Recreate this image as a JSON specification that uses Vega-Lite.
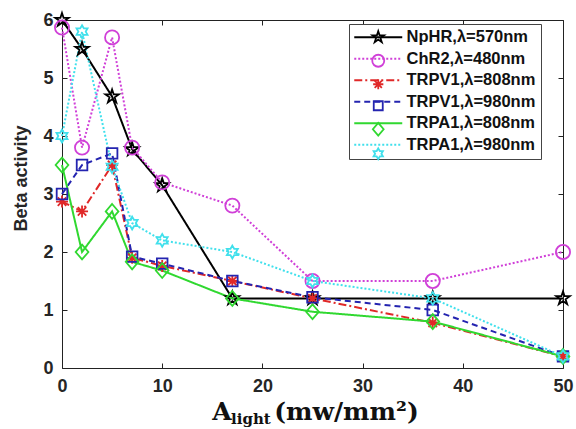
{
  "$schema": "https://vega.github.io/schema/vega-lite/v6.json",
  "width": 501,
  "height": 348,
  "autosize": {"type": "none"},
  "padding": {"left": 62, "top": 20, "right": 13, "bottom": 61},
  "background": "white",
  "title": {
    "text": "light",
    "orient": "bottom",
    "anchor": "start",
    "frame": "group",
    "font": "DejaVu Serif",
    "fontWeight": "bold",
    "fontSize": 15,
    "color": "#111",
    "offset": 0,
    "dx": 169,
    "dy": -12
  },
  "config": {
    "view": {"stroke": null},
    "font": "Liberation Sans"
  },
  "data": {
    "values": [
      {"s": "NpHR,λ=570nm", "o": 1, "x": 0, "y": 6.0},
      {"s": "NpHR,λ=570nm", "o": 1, "x": 2, "y": 5.5},
      {"s": "NpHR,λ=570nm", "o": 1, "x": 5, "y": 4.68},
      {"s": "NpHR,λ=570nm", "o": 1, "x": 7, "y": 3.77},
      {"s": "NpHR,λ=570nm", "o": 1, "x": 10, "y": 3.15},
      {"s": "NpHR,λ=570nm", "o": 1, "x": 17, "y": 1.2},
      {"s": "NpHR,λ=570nm", "o": 1, "x": 25, "y": 1.2},
      {"s": "NpHR,λ=570nm", "o": 1, "x": 37, "y": 1.2},
      {"s": "NpHR,λ=570nm", "o": 1, "x": 50, "y": 1.2},
      {"s": "ChR2,λ=480nm", "o": 2, "x": 0, "y": 5.87},
      {"s": "ChR2,λ=480nm", "o": 2, "x": 2, "y": 3.8},
      {"s": "ChR2,λ=480nm", "o": 2, "x": 5, "y": 5.7},
      {"s": "ChR2,λ=480nm", "o": 2, "x": 7, "y": 3.8},
      {"s": "ChR2,λ=480nm", "o": 2, "x": 10, "y": 3.2},
      {"s": "ChR2,λ=480nm", "o": 2, "x": 17, "y": 2.8},
      {"s": "ChR2,λ=480nm", "o": 2, "x": 25, "y": 1.5},
      {"s": "ChR2,λ=480nm", "o": 2, "x": 37, "y": 1.5},
      {"s": "ChR2,λ=480nm", "o": 2, "x": 50, "y": 2.0},
      {"s": "TRPV1,λ=808nm", "o": 3, "x": 0, "y": 2.87},
      {"s": "TRPV1,λ=808nm", "o": 3, "x": 2, "y": 2.7},
      {"s": "TRPV1,λ=808nm", "o": 3, "x": 5, "y": 3.5},
      {"s": "TRPV1,λ=808nm", "o": 3, "x": 7, "y": 1.9},
      {"s": "TRPV1,λ=808nm", "o": 3, "x": 10, "y": 1.76},
      {"s": "TRPV1,λ=808nm", "o": 3, "x": 17, "y": 1.5},
      {"s": "TRPV1,λ=808nm", "o": 3, "x": 25, "y": 1.2},
      {"s": "TRPV1,λ=808nm", "o": 3, "x": 37, "y": 0.78},
      {"s": "TRPV1,λ=808nm", "o": 3, "x": 50, "y": 0.2},
      {"s": "TRPV1,λ=980nm", "o": 4, "x": 0, "y": 3.0},
      {"s": "TRPV1,λ=980nm", "o": 4, "x": 2, "y": 3.5},
      {"s": "TRPV1,λ=980nm", "o": 4, "x": 5, "y": 3.7},
      {"s": "TRPV1,λ=980nm", "o": 4, "x": 7, "y": 1.92},
      {"s": "TRPV1,λ=980nm", "o": 4, "x": 10, "y": 1.8},
      {"s": "TRPV1,λ=980nm", "o": 4, "x": 17, "y": 1.5},
      {"s": "TRPV1,λ=980nm", "o": 4, "x": 25, "y": 1.22},
      {"s": "TRPV1,λ=980nm", "o": 4, "x": 37, "y": 1.0},
      {"s": "TRPV1,λ=980nm", "o": 4, "x": 50, "y": 0.2},
      {"s": "TRPA1,λ=808nm", "o": 5, "x": 0, "y": 3.5},
      {"s": "TRPA1,λ=808nm", "o": 5, "x": 2, "y": 2.0},
      {"s": "TRPA1,λ=808nm", "o": 5, "x": 5, "y": 2.7},
      {"s": "TRPA1,λ=808nm", "o": 5, "x": 7, "y": 1.83},
      {"s": "TRPA1,λ=808nm", "o": 5, "x": 10, "y": 1.68},
      {"s": "TRPA1,λ=808nm", "o": 5, "x": 17, "y": 1.2},
      {"s": "TRPA1,λ=808nm", "o": 5, "x": 25, "y": 0.97},
      {"s": "TRPA1,λ=808nm", "o": 5, "x": 37, "y": 0.8},
      {"s": "TRPA1,λ=808nm", "o": 5, "x": 50, "y": 0.2},
      {"s": "TRPA1,λ=980nm", "o": 6, "x": 0, "y": 4.0},
      {"s": "TRPA1,λ=980nm", "o": 6, "x": 2, "y": 5.8},
      {"s": "TRPA1,λ=980nm", "o": 6, "x": 5, "y": 3.47},
      {"s": "TRPA1,λ=980nm", "o": 6, "x": 7, "y": 2.5},
      {"s": "TRPA1,λ=980nm", "o": 6, "x": 10, "y": 2.2},
      {"s": "TRPA1,λ=980nm", "o": 6, "x": 17, "y": 2.0},
      {"s": "TRPA1,λ=980nm", "o": 6, "x": 25, "y": 1.5},
      {"s": "TRPA1,λ=980nm", "o": 6, "x": 37, "y": 1.2},
      {"s": "TRPA1,λ=980nm", "o": 6, "x": 50, "y": 0.2}
    ]
  },
  "resolve": {"axis": {"x": "independent", "y": "independent"}},
  "layer": [
    {
      "mark": {"type": "line", "strokeWidth": 2, "strokeCap": "butt"},
      "encoding": {
        "x": {
          "field": "x", "type": "quantitative",
          "scale": {"domain": [0, 50], "nice": false, "zero": false},
          "axis": {
            "orient": "bottom",
            "values": [0, 10, 20, 30, 40, 50],
            "grid": false,
            "domainColor": "#222", "domainWidth": 1,
            "tickColor": "#222", "tickSize": -5, "tickWidth": 1,
            "labelFont": "Liberation Sans", "labelFontWeight": "bold", "labelFontSize": 18,
            "labelColor": "#262626", "labelPadding": 14, "labelFlush": false,
            "title": "A\u2003\u2002\u2009(mw/mm²)",
            "titleFont": "DejaVu Serif", "titleFontWeight": "bold", "titleFontSize": 25,
            "titleColor": "#111", "titlePadding": 4, "titleX": 253
          }
        },
        "y": {
          "field": "y", "type": "quantitative",
          "scale": {"domain": [0, 6], "nice": false, "zero": false},
          "axis": {
            "orient": "left",
            "values": [0, 1, 2, 3, 4, 5, 6],
            "grid": false,
            "domainColor": "#222", "domainWidth": 1,
            "tickColor": "#222", "tickSize": -5, "tickWidth": 1,
            "labelFont": "Liberation Sans", "labelFontWeight": "bold", "labelFontSize": 18,
            "labelColor": "#262626", "labelPadding": 14, "labelFlush": false,
            "title": "Beta activity",
            "titleFont": "Liberation Sans", "titleFontWeight": "bold", "titleFontSize": 18,
            "titleColor": "#262626", "titlePadding": 12, "titleY": 158
          }
        },
        "detail": {"field": "s"},
        "stroke": {
          "field": "s", "type": "nominal",
          "sort": {"field": "o", "op": "min"},
          "scale": {"range": ["#000000", "#d040d8", "#e02828", "#2424b0", "#30d830", "#40e0ec"]},
          "legend": {
            "title": null, "orient": "none", "legendX": 287, "legendY": 4, "zindex": 0,
            "padding": 5, "fillColor": "white", "strokeColor": "#444",
            "labelFont": "Liberation Sans", "labelFontWeight": "bold", "labelFontSize": 16.5, "labelColor": "#111",
            "symbolType": "M-4,0H4", "symbolSize": 144, "symbolStrokeWidth": 2,
            "symbolOffset": 16, "labelOffset": 20, "rowPadding": 4.5
          }
        },
        "strokeDash": {
          "field": "s", "type": "nominal",
          "sort": {"field": "o", "op": "min"},
          "scale": {"range": [[1, 0], [2, 2], [8, 3, 2, 3], [6, 4], [1, 0], [2, 2]]},
          "legend": {
            "title": null, "orient": "none", "legendX": 287, "legendY": 4, "zindex": 0,
            "padding": 5, "fillColor": "white", "strokeColor": "#444",
            "labelFont": "Liberation Sans", "labelFontWeight": "bold", "labelFontSize": 16.5, "labelColor": "#111",
            "symbolType": "M-4,0H4", "symbolSize": 144, "symbolStrokeWidth": 2,
            "symbolOffset": 16, "labelOffset": 20, "rowPadding": 4.5
          }
        }
      }
    },
    {
      "mark": {"type": "point", "filled": false, "strokeWidth": 1.8, "size": 200, "opacity": 1},
      "encoding": {
        "x": {
          "field": "x", "type": "quantitative",
          "axis": {
            "orient": "top", "values": [0, 10, 20, 30, 40, 50], "labels": false, "title": null,
            "grid": false, "domainColor": "#222", "tickColor": "#222", "tickSize": -5
          }
        },
        "y": {
          "field": "y", "type": "quantitative",
          "axis": {
            "orient": "right", "values": [0, 1, 2, 3, 4, 5, 6], "labels": false, "title": null,
            "grid": false, "domainColor": "#222", "tickColor": "#222", "tickSize": -5
          }
        },
        "color": {
          "field": "s", "type": "nominal",
          "scale": {
            "domain": ["NpHR,λ=570nm", "ChR2,λ=480nm", "TRPV1,λ=808nm", "TRPV1,λ=980nm", "TRPA1,λ=808nm", "TRPA1,λ=980nm"],
            "range": ["#000000", "#d040d8", "#e02828", "#2424b0", "#30d830", "#40e0ec"]
          },
          "legend": {
            "title": null, "orient": "none", "legendX": 287, "legendY": 4, "zindex": 1,
            "padding": 5,
            "labelFont": "Liberation Sans", "labelFontWeight": "bold", "labelFontSize": 16.5, "labelOpacity": 0,
            "labelExpr": "''",
            "symbolSize": 144, "symbolStrokeWidth": 1.8,
            "symbolOffset": 16, "labelOffset": 20, "rowPadding": 4.5
          }
        },
        "shape": {
          "field": "s", "type": "nominal",
          "scale": {
            "domain": ["NpHR,λ=570nm", "ChR2,λ=480nm", "TRPV1,λ=808nm", "TRPV1,λ=980nm", "TRPA1,λ=808nm", "TRPA1,λ=980nm"],
            "range": [
              "M0,-1L0.225,-0.309L0.951,-0.309L0.363,0.118L0.588,0.809L0,0.382L-0.588,0.809L-0.363,0.118L-0.951,-0.309L-0.225,-0.309Z",
              "M1,0A1,1 0 1,1 -1,0A1,1 0 1,1 1,0Z",
              "M0,-0.85V0.85M-0.85,0H0.85M-0.6,-0.6L0.6,0.6M-0.6,0.6L0.6,-0.6",
              "M-0.75,-0.75H0.75V0.75H-0.75Z",
              "M0,-1.05L0.9,0L0,1.05L-0.9,0Z",
              "M0,-0.9L0.26,-0.45L0.779,-0.45L0.52,0L0.779,0.45L0.26,0.45L0,0.9L-0.26,0.45L-0.779,0.45L-0.52,0L-0.779,-0.45L-0.26,-0.45Z"
            ]
          },
          "legend": {
            "title": null, "orient": "none", "legendX": 287, "legendY": 4, "zindex": 1,
            "padding": 5,
            "labelFont": "Liberation Sans", "labelFontWeight": "bold", "labelFontSize": 16.5, "labelOpacity": 0,
            "labelExpr": "''",
            "symbolSize": 144, "symbolStrokeWidth": 1.8,
            "symbolOffset": 16, "labelOffset": 20, "rowPadding": 4.5
          }
        }
      }
    }
  ]
}
